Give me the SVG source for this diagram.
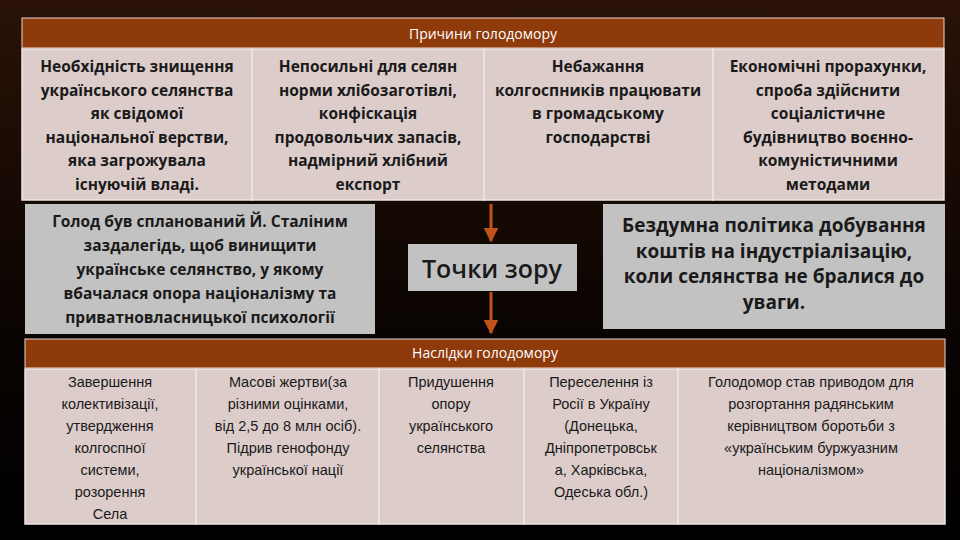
<svg xmlns="http://www.w3.org/2000/svg" width="960" height="540" viewBox="0 0 960 540">
<defs>
<linearGradient id="bg" x1="0" y1="0" x2="0" y2="1"><stop offset="0" stop-color="#2a1206"/><stop offset="0.6" stop-color="#0a0402"/><stop offset="1" stop-color="#000"/></linearGradient>
<marker id="ah" viewBox="0 0 10 10" refX="9" refY="5" markerWidth="5" markerHeight="5" orient="auto"><path d="M0,0 L10,5 L0,10 z" fill="#c0521a"/></marker>
<style>
.hd{fill:#8e3a0b;stroke:#e8d8d0;stroke-width:1}
.cell{fill:#dccdcb;stroke:#f0e6e4;stroke-width:1.5}
.gray{fill:#c2c2c2}
.t{font-family:"Open Sans","Noto Sans","Liberation Sans",sans-serif;font-weight:bold;font-size:15.5px;fill:#1a1a1a;text-anchor:middle}
.b{font-family:"Liberation Sans",sans-serif;font-size:14.5px;fill:#1a1a1a;text-anchor:middle}
.h{font-family:"Open Sans","Liberation Sans",sans-serif;font-size:14px;fill:#fff;text-anchor:middle}
.g{font-family:"Open Sans","Liberation Sans",sans-serif;font-weight:bold;font-size:19px;fill:#1a1a1a;text-anchor:middle}
.conn{stroke:#c0521a;stroke-width:3;fill:none}
</style>
</defs>
<rect width="960" height="540" fill="url(#bg)"/>
<g id="causes">
<rect class="hd" x="22" y="18" width="922" height="30"/>
<text class="h" x="483" y="39">Причини голодомору</text>
<rect class="cell" x="22" y="49" width="230" height="151"/>
<rect class="cell" x="252" y="49" width="232" height="151"/>
<rect class="cell" x="484" y="49" width="229" height="151"/>
<rect class="cell" x="713" y="49" width="231" height="151"/>
<text class="t" x="137" y="72">Необхідність знищення<tspan x="137" dy="23.5">українського селянства</tspan><tspan x="137" dy="23.5">як свідомої</tspan><tspan x="137" dy="23.5">національної верстви,</tspan><tspan x="137" dy="23.5">яка загрожувала</tspan><tspan x="137" dy="23.5">існуючій владі.</tspan></text>
<text class="t" x="368" y="72">Непосильні для селян<tspan x="368" dy="23.5">норми хлібозаготівлі,</tspan><tspan x="368" dy="23.5">конфіскація</tspan><tspan x="368" dy="23.5">продовольчих запасів,</tspan><tspan x="368" dy="23.5">надмірний хлібний</tspan><tspan x="368" dy="23.5">експорт</tspan></text>
<text class="t" x="598" y="72">Небажання<tspan x="598" dy="23.5">колгоспників працювати</tspan><tspan x="598" dy="23.5">в громадському</tspan><tspan x="598" dy="23.5">господарстві</tspan></text>
<text class="t" x="828" y="72">Економічні прорахунки,<tspan x="828" dy="23.5">спроба здійснити</tspan><tspan x="828" dy="23.5">соціалістичне</tspan><tspan x="828" dy="23.5">будівництво воєнно-</tspan><tspan x="828" dy="23.5">комуністичними</tspan><tspan x="828" dy="23.5">методами</tspan></text>
</g>
<g id="view1">
<rect class="gray" x="25" y="204" width="350" height="130"/>
<text class="t" x="200" y="227">Голод був спланований Й. Сталіним<tspan x="200" dy="24">заздалегідь, щоб винищити</tspan><tspan x="200" dy="24">українське селянство, у якому</tspan><tspan x="200" dy="24">вбачалася опора націоналізму та</tspan><tspan x="200" dy="24">приватновласницької психології</tspan></text>
</g>
<g id="points">
<rect class="gray" x="408" y="244" width="169" height="47"/>
<text x="492" y="278" font-family="Open Sans, Liberation Sans, sans-serif" font-size="25" font-weight="600" fill="#1a1a1a" text-anchor="middle">Точки зору</text>
</g>
<g id="view2">
<rect class="gray" x="603" y="204" width="342" height="125"/>
<text class="g" x="774" y="232">Бездумна політика  добування<tspan x="774" dy="25.5">коштів на індустріалізацію,</tspan><tspan x="774" dy="25.5">коли селянства не бралися до</tspan><tspan x="774" dy="25.5">уваги.</tspan></text>
</g>
<g id="connectors">
<line class="conn" x1="491" y1="204" x2="491" y2="241" marker-end="url(#ah)"/>
<line class="conn" x1="491" y1="292" x2="491" y2="333" marker-end="url(#ah)"/>
</g>
<g id="consequences">
<rect class="hd" x="25" y="339" width="920" height="29"/>
<text class="h" x="485" y="358">Наслідки голодомору</text>
<rect class="cell" x="25" y="369" width="171" height="155"/>
<rect class="cell" x="196" y="369" width="183" height="155"/>
<rect class="cell" x="379" y="369" width="145" height="155"/>
<rect class="cell" x="524" y="369" width="154" height="155"/>
<rect class="cell" x="678" y="369" width="267" height="155"/>
<text class="b" x="110" y="387">Завершення<tspan x="110" dy="22">колективізації,</tspan><tspan x="110" dy="22">утвердження</tspan><tspan x="110" dy="22">колгоспної</tspan><tspan x="110" dy="22">системи,</tspan><tspan x="110" dy="22">розорення</tspan><tspan x="110" dy="22">Села</tspan></text>
<text class="b" x="288" y="387">Масові жертви(за<tspan x="288" dy="22">різними оцінками,</tspan><tspan x="288" dy="22">від 2,5 до 8 млн осіб).</tspan><tspan x="288" dy="22">Підрив генофонду</tspan><tspan x="288" dy="22">української нації</tspan></text>
<text class="b" x="451" y="387">Придушення<tspan x="451" dy="22">опору</tspan><tspan x="451" dy="22">українського</tspan><tspan x="451" dy="22">селянства</tspan></text>
<text class="b" x="601" y="387">Переселення із<tspan x="601" dy="22">Росії в Україну</tspan><tspan x="601" dy="22">(Донецька,</tspan><tspan x="601" dy="22">Дніпропетровськ</tspan><tspan x="601" dy="22">а, Харківська,</tspan><tspan x="601" dy="22">Одеська обл.)</tspan></text>
<text class="b" x="811" y="387">Голодомор став приводом для<tspan x="811" dy="22">розгортання радянським</tspan><tspan x="811" dy="22">керівництвом боротьби з</tspan><tspan x="811" dy="22">«українським буржуазним</tspan><tspan x="811" dy="22">націоналізмом»</tspan></text>
</g>
</svg>
